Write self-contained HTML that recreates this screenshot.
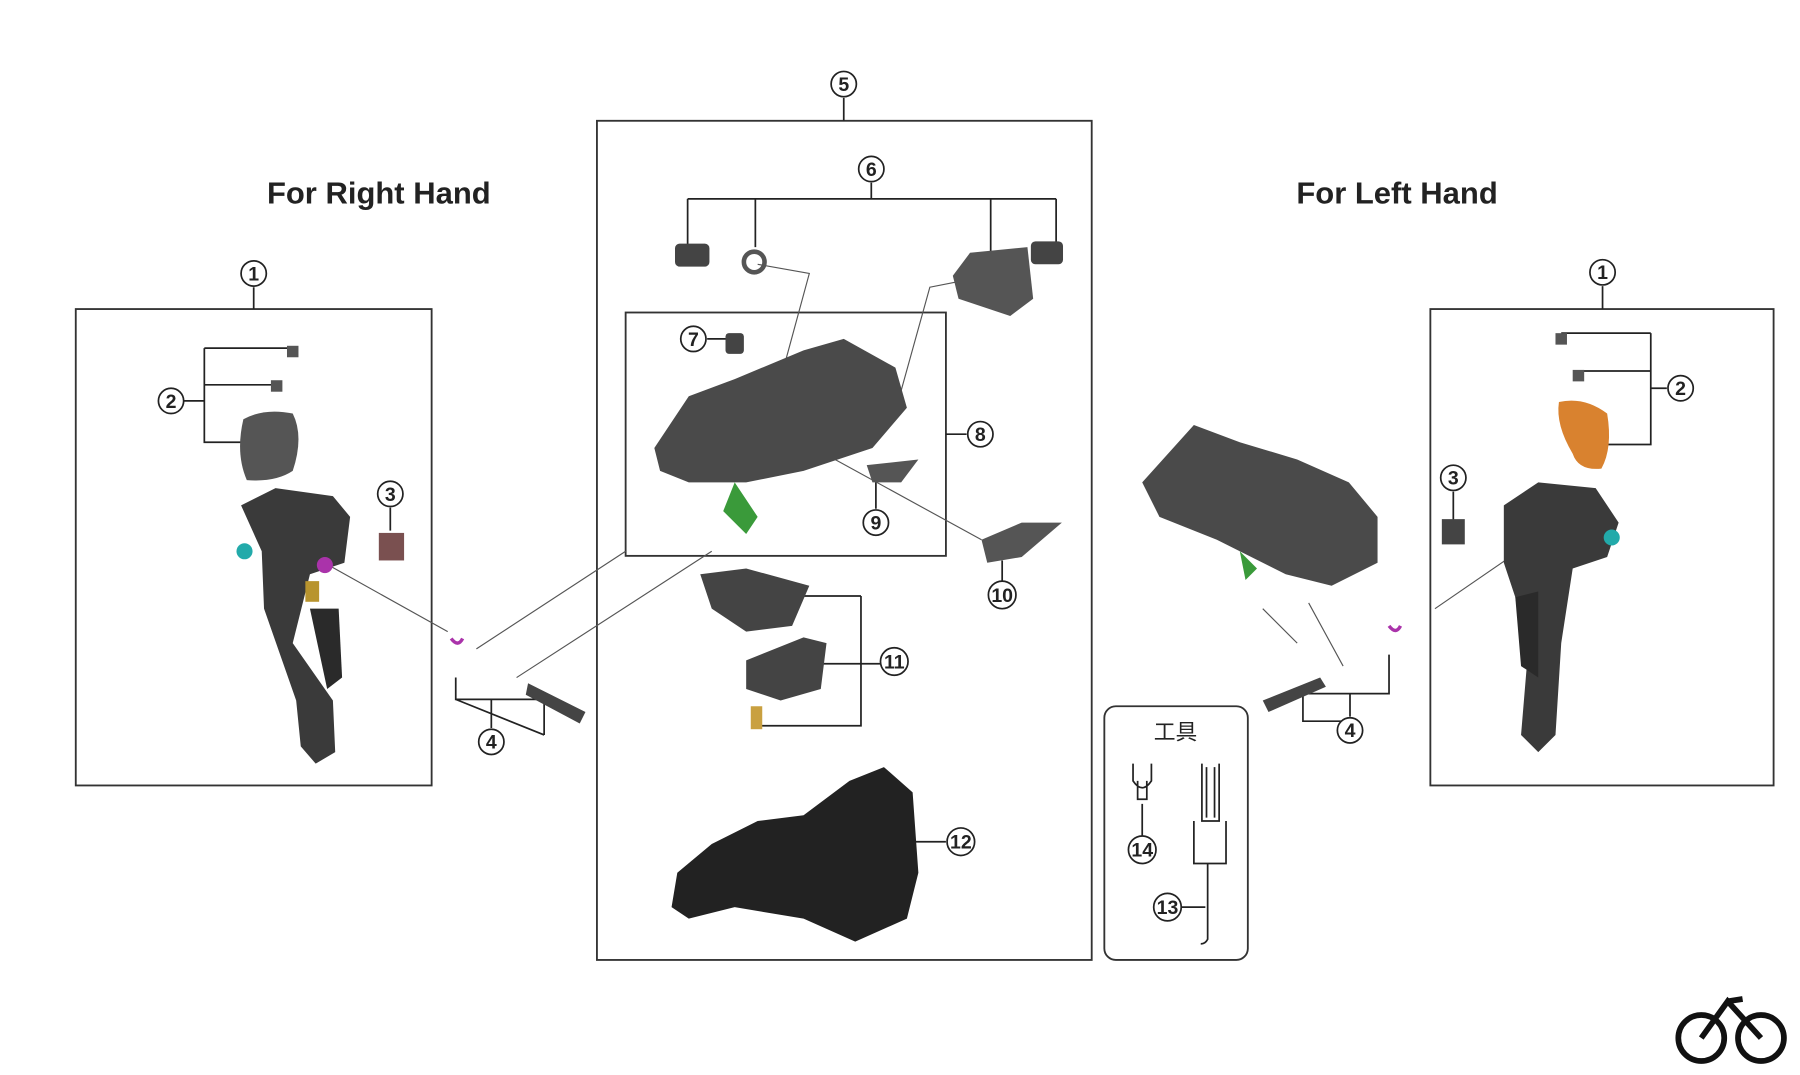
<!DOCTYPE html>
<html><head><meta charset="utf-8"><style>
html,body{margin:0;padding:0;background:#fff;}
svg{display:block;}
text{font-family:"Liberation Sans","Noto Sans CJK JP",sans-serif;}
.n{font-size:17px;font-weight:bold;text-anchor:middle;fill:#222;}
</style></head><body>
<svg width="1800" height="1075" viewBox="0 0 1568 936" xmlns="http://www.w3.org/2000/svg">
<rect width="1568" height="936" fill="#fff"/>
<g fill="none" stroke="#333" stroke-width="1.6">
<rect x="66" y="269" width="310" height="415"/>
<rect x="520" y="105" width="431" height="731"/>
<rect x="545" y="272" width="279" height="212"/>
<rect x="1246" y="269" width="299" height="415"/>
<rect x="962" y="615" width="125" height="221" rx="10"/>
</g>
<text x="330" y="177" font-size="27" font-weight="bold" text-anchor="middle" fill="#222">For Right Hand</text>
<text x="1217" y="177" font-size="27" font-weight="bold" text-anchor="middle" fill="#222">For Left Hand</text>
<text x="1024" y="644" font-size="19" text-anchor="middle" fill="#222">工具</text>
<g fill="none" stroke="#222" stroke-width="1.5">
<path d="M221 250V269M735 85V105M759 159V173M599 173H920M599 173V215M658 173V215M863 173V235M920 173V213"/>
<path d="M160 349H178M178 303V385H232M178 303H254M178 335H240M340 442V462M397 590V609H474V640M397 609L474 640M428 634V609"/>
<path d="M616 295H640M824 378H842M763 443V420M873 506V488M750 519V632H660M690 519H750M750 578H767M680 578H750M824 733H788M995 728V700M1005 790H1050M1396 249V269M1452 338H1438M1438 290V387H1395M1438 290H1360M1438 323H1375M1266 428V455M1176 624V604M1135 604H1210V570M1135 604V628H1176"/>
</g>
<g fill="none" stroke="#555" stroke-width="1">
<path d="M286 492L390 550M415 565L545 480M450 590L620 480M660 230L705 238L680 330M835 245L810 250L785 340M700 385L855 470M1250 530L1330 475M1140 525L1170 580M1100 530L1130 560"/>
</g>
<g fill="#fff" stroke="#222" stroke-width="1.5">
<circle cx="221" cy="238" r="11"/><circle cx="149" cy="349" r="11"/><circle cx="340" cy="430" r="11"/><circle cx="428" cy="646" r="11"/>
<circle cx="735" cy="73" r="11"/><circle cx="759" cy="147" r="11"/><circle cx="604" cy="295" r="11"/><circle cx="854" cy="378" r="11"/>
<circle cx="763" cy="455" r="11"/><circle cx="873" cy="518" r="12"/><circle cx="779" cy="576" r="12"/><circle cx="837" cy="733" r="12"/>
<circle cx="1017" cy="790" r="12"/><circle cx="995" cy="740" r="12"/><circle cx="1396" cy="237" r="11"/><circle cx="1464" cy="338" r="11"/>
<circle cx="1266" cy="416" r="11"/><circle cx="1176" cy="636" r="11"/>
</g>
<g class="n">
<text class="n" x="221" y="244">1</text><text class="n" x="149" y="355">2</text><text class="n" x="340" y="436">3</text><text class="n" x="428" y="652">4</text>
<text class="n" x="735" y="79">5</text><text class="n" x="759" y="153">6</text><text class="n" x="604" y="301">7</text><text class="n" x="854" y="384">8</text>
<text class="n" x="763" y="461">9</text><text class="n" x="873" y="524">10</text><text class="n" x="779" y="582">11</text><text class="n" x="837" y="739">12</text>
<text class="n" x="1017" y="796">13</text><text class="n" x="995" y="746">14</text><text class="n" x="1396" y="243">1</text><text class="n" x="1464" y="344">2</text>
<text class="n" x="1266" y="422">3</text><text class="n" x="1176" y="642">4</text>
</g>
<g fill="#3a3a3a">
<path d="M212 365Q230 355 255 360Q265 380 255 410Q240 420 215 418Q205 395 212 365Z" fill="#555"/>
<path d="M210 440L240 425L290 432L305 450L300 490L270 500L255 560L290 610L292 655L275 665L262 650L258 610L230 530L228 480Z"/>
<path d="M270 530L295 530L298 590L285 600Z" fill="#2a2a2a"/>
<rect x="330" y="464" width="22" height="24" fill="#7a5050"/>
<circle cx="213" cy="480" r="7" fill="#2aa"/><circle cx="283" cy="492" r="7" fill="#a3a"/>
<rect x="266" y="506" width="12" height="18" fill="#b8942e"/>
<rect x="250" y="301" width="10" height="10" fill="#555"/><rect x="236" y="331" width="10" height="10" fill="#555"/>
</g>
<g fill="#444">
<rect x="588" y="212" width="30" height="20" rx="4"/>
<circle cx="657" cy="228" r="9" fill="none" stroke="#555" stroke-width="4"/>
<path d="M830 240L845 220L895 215L900 260L880 275L835 260Z" fill="#555"/>
<rect x="898" y="210" width="28" height="20" rx="4"/>
<rect x="632" y="290" width="16" height="18" rx="3"/>
<path d="M570 390L600 345L640 330L700 305L735 295L780 320L790 355L760 390L700 410L650 420L600 420L575 410Z" fill="#4a4a4a"/>
<path d="M640 420L660 450L650 465L630 445Z" fill="#3a9a3a"/>
<path d="M755 405L800 400L785 420L760 420Z" fill="#555"/>
<path d="M855 470L890 455L925 455L890 485L860 490Z" fill="#555"/>
<path d="M610 500L650 495L705 510L690 545L650 550L620 530Z"/>
<path d="M650 575L700 555L720 560L715 600L680 610L650 600Z"/>
<rect x="654" y="615" width="10" height="20" fill="#c9a040"/>
<path d="M460 595L510 620L505 630L458 605Z" fill="#444"/>
<path d="M590 760L620 735L660 715L700 710L740 680L770 668L795 690L800 760L790 800L745 820L700 800L640 790L600 800L585 790Z" fill="#222"/>
</g>
<g fill="#444">
<path d="M995 420L1040 370L1080 385L1130 400L1175 420L1200 450L1200 490L1160 510L1120 500L1060 470L1010 450Z" fill="#4a4a4a"/>
<path d="M1080 480L1095 495L1085 505Z" fill="#3a9a3a"/>
<path d="M1100 610L1150 590L1155 598L1105 620Z"/>
<path d="M1358 350Q1380 345 1400 360Q1405 390 1395 408Q1375 410 1370 395Q1355 370 1358 350Z" fill="#d9822f"/>
<path d="M1310 440L1340 420L1390 425L1410 455L1400 485L1370 495L1360 560L1355 640L1340 655L1325 640L1330 580L1320 520L1310 490Z" fill="#3a3a3a"/>
<path d="M1320 520L1340 515L1340 590L1325 580Z" fill="#2a2a2a"/>
<rect x="1256" y="452" width="20" height="22"/>
<circle cx="1404" cy="468" r="7" fill="#2aa"/>
<rect x="1355" y="290" width="10" height="10" fill="#555"/><rect x="1370" y="322" width="10" height="10" fill="#555"/>
</g>
<g fill="none" stroke="#a3a" stroke-width="3"><path d="M393 556q6 8 10 0M1210 545q6 8 10 0"/></g>
<g fill="none" stroke="#222" stroke-width="1.5">
<path d="M987 665V680Q995 692 1003 680V665M991 680V696H999V680"/>
<path d="M1047 665V715H1062V665M1051 668V712M1058 668V712M1040 715V752H1068V715M1052 752V818Q1050 822 1046 822"/>
</g>
<g fill="none" stroke="#111" stroke-width="5">
<circle cx="1482" cy="904" r="20"/><circle cx="1534" cy="904" r="20"/>
<path d="M1482 904L1505 872L1534 904M1505 872L1518 870"/>
</g>
</svg>
</body></html>
